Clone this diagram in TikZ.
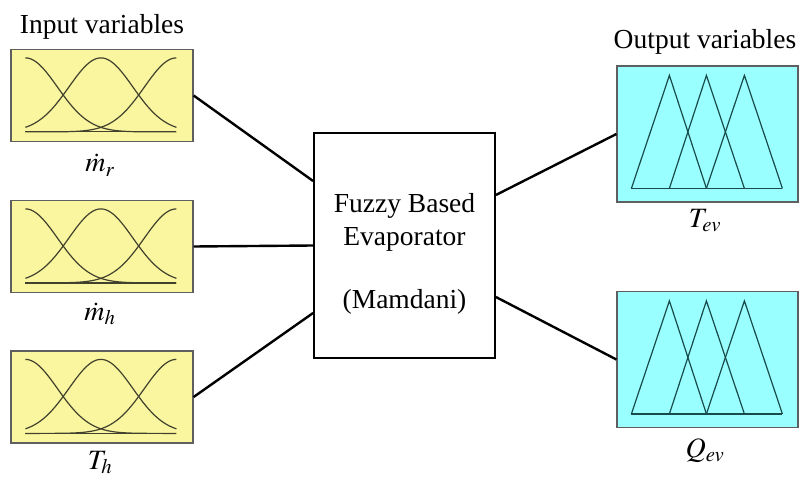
\documentclass[tikz,border=0pt]{standalone}
\usepackage{mathptmx}
\usepackage{fontspec}
\setmainfont{Liberation Serif}
\usetikzlibrary{calc}

\definecolor{inyellow}{RGB}{250,246,160}
\definecolor{outcyan}{RGB}{153,255,255}
\definecolor{boxgray}{RGB}{95,95,95}
\definecolor{bellcol}{RGB}{65,65,45}
\definecolor{tricol}{RGB}{25,75,75}

\tikzset{
  inbox/.style={draw=boxgray, line width=1.2pt, fill=inyellow, minimum width=182pt, minimum height=92pt, inner sep=0pt},
  outbox/.style={draw=boxgray, line width=1.2pt, fill=outcyan, minimum width=181pt, minimum height=136pt, inner sep=0pt},
  fuzzbox/.style={draw=black, line width=1.8pt, fill=white, minimum width=181pt, minimum height=225pt, inner sep=0pt},
  bell/.style={draw=bellcol, line width=1.2pt},
  tri/.style={draw=tricol, line width=1.2pt, line join=miter},
  link/.style={draw=black, line width=2.4pt},
  lbl/.style={font=\fontsize{27.5}{30}\selectfont, anchor=base, inner sep=0pt},
  varlbl/.style={font=\fontsize{28}{30}\selectfont, anchor=base, inner sep=0pt}
}

\begin{document}
\begin{tikzpicture}[x=1pt, y=-1pt]
\useasboundingbox (0,0) rectangle (799,478);

% input membership boxes (Gaussian sets)
\node[inbox] (in1) at (102,95.5) {};
\node[inbox] (in2) at (102,246.5) {};
\node[inbox] (in3) at (102,397) {};
\foreach \b in {in1,in2,in3}{
  \begin{scope}[shift={(\b.north west)}]
    \draw[bell] (15,83) -- (166,83);
    \foreach \c in {15,90.5,166}{
      \draw[bell, domain=15:166, samples=80, smooth]
        plot (\x, {83 - 74*exp(-((\x-\c)/45.25)^2)});
    }
  \end{scope}
}

% output membership boxes (triangular sets)
\node[outbox] (out1) at (707.5,134) {};
\node[outbox] (out2) at (707.5,359.5) {};
\foreach \b in {out1,out2}{
  \begin{scope}[shift={(\b.north west)}]
    \draw[tri] (15,123) -- (166,123);
    \draw[tri] (15,123) -- (53,10) -- (90,123);
    \draw[tri] (53,123) -- (90,10) -- (128,123);
    \draw[tri] (90,123) -- (128,10) -- (166,123);
  \end{scope}
}

% inference block
\node[fuzzbox] (fz) at (404.5,245.5) {};
\node[lbl] (t1) at (404.5,212) {Fuzzy Based};
\node[lbl] (t2) at (404.5,245) {Evaporator};
\node[lbl] (t3) at (404.5,308) {(Mamdani)};

% connections
\draw[link] (in1.east) -- ([yshift=64.5pt]fz.west);
\draw[link] (in2.east) -- (fz.west);
\draw[link] (in3.east) -- ([yshift=-67.5pt]fz.west);
\draw[link] ([yshift=50.5pt]fz.east) -- (out1.west);
\draw[link] ([yshift=-51.5pt]fz.east) -- (out2.west);

% headings and variable names
\node[lbl] (hin) at (102,34) {Input variables};
\node[lbl] (hout) at (705,49) {Output variables};
\node[varlbl] (v1) at (100,172) {$\dot{m}_r$};
\node[varlbl] (v2) at (100,320) {$\dot{m}_h$};
\node[varlbl] (v3) at (100,469) {$T_h$};
\node[varlbl] (v4) at (705,227) {$T_{ev}$};
\node[varlbl] (v5) at (705,457) {$Q_{ev}$};
\end{tikzpicture}
\end{document}
